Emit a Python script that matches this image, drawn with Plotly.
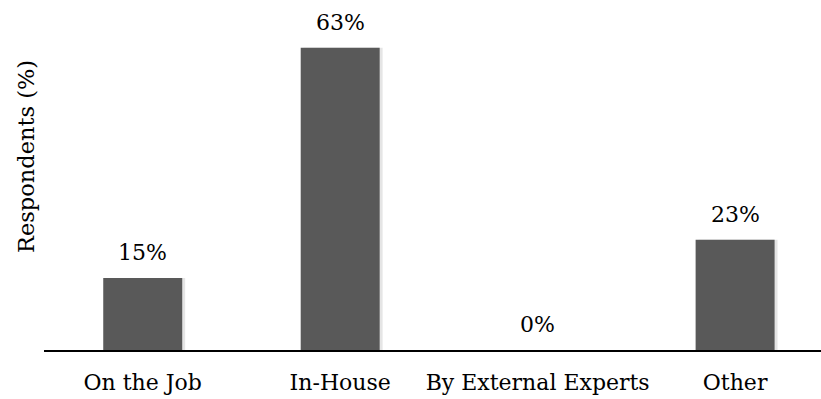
import plotly.graph_objects as go

categories = ["On the Job", "In-House", "By External Experts", "Other"]
values = [15, 63, 0, 23]
labels = ["15%", "63%", "0%", "23%"]

FONT = "DejaVu Serif"
BAR = "#595959"

fig = go.Figure()
# soft shadow
fig.add_trace(go.Bar(x=list(range(4)), y=values, width=0.4, offset=-0.185,
                     marker=dict(color="rgba(0,0,0,0.10)", line=dict(width=0)),
                     hoverinfo="skip", showlegend=False))
fig.add_trace(go.Bar(x=list(range(4)), y=values, width=0.4,
                     marker=dict(color=BAR, line=dict(width=0)), showlegend=False))

for i, (v, t) in enumerate(zip(values, labels)):
    fig.add_annotation(x=i, y=v, text=t, showarrow=False, yanchor="bottom",
                       yshift=11, font=dict(family=FONT, size=22, color="#000"))

fig.add_annotation(xref="paper", yref="paper", x=(26 - 44) / 777, y=(350 - 157) / 350,
                   xanchor="center", yanchor="middle",
                   text="Respondents (%)", textangle=-90, showarrow=False,
                   font=dict(family=FONT, size=22.5, color="#000"))

fig.update_layout(
    width=821, height=399, margin=dict(l=44, r=0, t=0, b=49),
    paper_bgcolor="white", plot_bgcolor="white", barmode="overlay",
    font=dict(family=FONT, size=22, color="#000"),
)
fig.update_xaxes(range=[-0.5, 3.435], tickmode="array", tickvals=list(range(4)),
                 ticktext=categories, showline=True, linecolor="black", linewidth=2,
                 ticks="", showgrid=False, zeroline=False, ticklabelstandoff=12)
fig.update_yaxes(range=[0, 72.95], showticklabels=False, showgrid=False,
                 zeroline=False, showline=False)

fig.write_html("out.html")
